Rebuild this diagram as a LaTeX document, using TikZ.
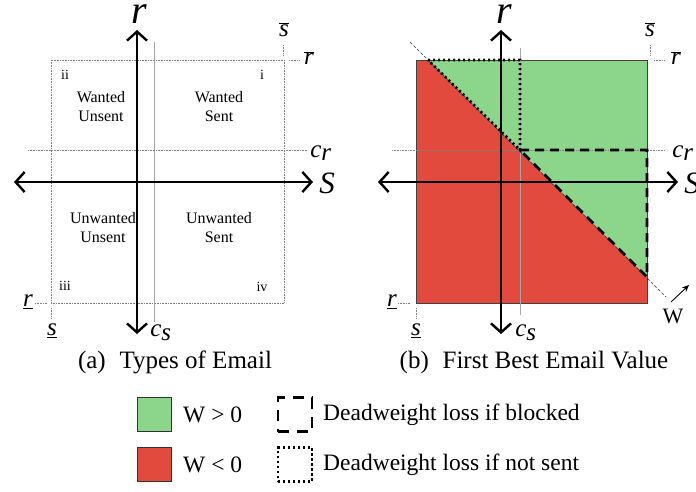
\documentclass[tikz,border=0pt]{standalone}
\usepackage{fontspec}
\setmainfont{Liberation Serif}
\newfontfamily\timesit{LiberationSerif-Italic.ttf}
\usetikzlibrary{arrows.meta}
\definecolor{wgreen}{HTML}{8CD68C}
\definecolor{wred}{HTML}{E24A3E}
\newcommand{\ivar}[1]{\mbox{\timesit #1}}
\tikzset{
  axisln/.style={line width=2.4pt,{Straight Barb[length=9pt,width=20pt,line width=2.4pt]}-{Straight Barb[length=9pt,width=20pt,line width=2.4pt]}},
  guide/.style={gray,line width=0.6pt,densely dotted},
  guidesolid/.style={gray!70,line width=0.6pt},
  tickln/.style={gray,line width=0.6pt,densely dotted},
  rlbl/.style={font=\fontsize{40}{42}\selectfont\timesit,inner sep=0pt,anchor=base},
  biglbl/.style={font=\fontsize{31}{33}\selectfont\timesit,inner sep=0pt},
  midlbl/.style={font=\fontsize{25}{27}\selectfont\timesit,inner sep=0pt},
  region/.style={font=\fontsize{16}{19}\selectfont,align=center,inner sep=0pt},
  roman/.style={font=\fontsize{14}{15}\selectfont,inner sep=0pt},
  captxt/.style={font=\fontsize{25}{27}\selectfont,inner sep=0pt},
  legtxt/.style={font=\fontsize{23.5}{25}\selectfont,inner sep=0pt,anchor=west},
  dashloss/.style={line width=2.6pt,dash pattern=on 9pt off 6pt},
  dotloss/.style={line width=2.6pt,dash pattern=on 2.2pt off 2.8pt},
}
\begin{document}
\begin{tikzpicture}[x=1pt,y=-1pt]
\useasboundingbox (0,0) rectangle (696,491);
% ================= Panel (a) =================
\coordinate (aTL) at (51,60);
\coordinate (aBR) at (284,303);
\draw[guide,line width=1pt] (aTL) rectangle (aBR);
\coordinate (acsT) at (154,42); \coordinate (acsB) at (154,322);
\draw[guidesolid] (acsT) -- (acsB);
\coordinate (acrL) at (28,150); \coordinate (acrR) at (307,150);
\draw[guide] (acrL) -- (acrR);
\coordinate (ayT) at (137,30); \coordinate (ayB) at (137,334);
\coordinate (axL) at (14,182); \coordinate (axR) at (313,182);
\draw[axisln] (axL) -- (axR);
\draw[axisln] (ayB) -- (ayT);
% labels
\node[rlbl] (ar) at (139,23) {r};
\node[biglbl] (aS) at (327,183) {S};
\node[midlbl] (asbar) at (284,30) {$\overline{\ivar{s}}$};
\coordinate (asbT) at (283,45); \coordinate (asbB) at (283,55);
\draw[tickln] (asbT) -- (asbB);
\node[midlbl] (arbar) at (309,58) {$\overline{\ivar{r}}$};
\coordinate (arbL) at (289,60); \coordinate (arbR) at (300,60);
\draw[tickln] (arbL) -- (arbR);
\node[midlbl] (acr) at (321,153) {$\ivar{c}_{\ivar{r}}$};
\node[midlbl] (arunder) at (28,302) {$\underline{\ivar{r}}$};
\coordinate (aruL) at (35,303); \coordinate (aruR) at (47,303);
\draw[tickln] (aruL) -- (aruR);
\node[midlbl] (asunder) at (52,331) {$\underline{\ivar{s}}$};
\coordinate (asuT) at (51,308); \coordinate (asuB) at (51,318);
\draw[tickln] (asuT) -- (asuB);
\node[midlbl] (acs) at (161,333) {$\ivar{c}_{\ivar{s}}$};
% regions
\node[roman] (ii) at (65,75) {ii};
\node[roman] (i) at (262,75) {i};
\node[roman] (iii) at (65,286) {iii};
\node[roman] (iv) at (262,287) {iv};
\node[region] (wu) at (101,107) {Wanted\\Unsent};
\node[region] (ws) at (219,107) {Wanted\\Sent};
\node[region] (uu) at (103,228) {Unwanted\\Unsent};
\node[region] (us) at (219,228) {Unwanted\\Sent};
\node[captxt] (capa) at (175,362) {(a)\hspace{0.55em}Types of Email};
% ================= Panel (b) =================
\coordinate (bTL) at (416,60);
\coordinate (bBR) at (647,303);
\coordinate (bTR) at (647,60);
\coordinate (bD1) at (428,60);
\coordinate (bD2) at (647,277);
\coordinate (bX) at (520,150);
\coordinate (bXt) at (520,60);
\coordinate (bXr) at (647,150);
\fill[wred] (bTL) rectangle (bBR);
\fill[wgreen] (bD1) -- (bTR) -- (bD2) -- cycle;
\draw[black!75,line width=0.8pt] (bTL) rectangle (bBR);
\coordinate (bWs) at (410,42); \coordinate (bWe) at (666,297);
\draw[black!80,line width=0.6pt,dash pattern=on 3pt off 2pt] (bWs) -- (bWe);
\coordinate (bcsT) at (520,48); \coordinate (bcsB) at (520,315);
\draw[guidesolid] (bcsT) -- (bcsB);
\coordinate (bcrL) at (392,150); \coordinate (bcrR) at (665,150);
\draw[guide] (bcrL) -- (bcrR);
\draw[dotloss] (bD1) -- (bXt) -- (bX) -- cycle;
\draw[dashloss] (bX) -- (bXr) -- (bD2) -- cycle;
\coordinate (byT) at (501,30); \coordinate (byB) at (501,334);
\coordinate (bxL) at (378,182); \coordinate (bxR) at (678,182);
\draw[axisln] (bxL) -- (bxR);
\draw[axisln] (byB) -- (byT);
\node[rlbl] (br) at (504,23) {r};
\node[biglbl] (bS) at (692,183) {S};
\node[midlbl] (bsbar) at (650,30) {$\overline{\ivar{s}}$};
\coordinate (bsbT) at (650,45); \coordinate (bsbB) at (650,55);
\draw[tickln] (bsbT) -- (bsbB);
\node[midlbl] (brbar) at (676,58) {$\overline{\ivar{r}}$};
\coordinate (brbL) at (654,60); \coordinate (brbR) at (665,60);
\draw[tickln] (brbL) -- (brbR);
\node[midlbl] (bcr) at (683,153) {$\ivar{c}_{\ivar{r}}$};
\node[midlbl] (brunder) at (392,302) {$\underline{\ivar{r}}$};
\coordinate (bruL) at (398,303); \coordinate (bruR) at (410,303);
\draw[tickln] (bruL) -- (bruR);
\node[midlbl] (bsunder) at (416,331) {$\underline{\ivar{s}}$};
\coordinate (bsuT) at (416,308); \coordinate (bsuB) at (416,318);
\draw[tickln] (bsuT) -- (bsuB);
\node[midlbl] (bcs) at (526,333) {$\ivar{c}_{\ivar{s}}$};
\node[font=\fontsize{22}{24}\selectfont,inner sep=0pt] (bW) at (673,316) {W};
\coordinate (bWa) at (671,302); \coordinate (bWb) at (689,285);
\draw[line width=0.9pt,-{Stealth[length=7pt,width=6pt]}] (bWa) -- (bWb);
\node[captxt] (capb) at (534,362) {(b)\hspace{0.55em}First Best Email Value};
% ================= Legend =================
\node[draw=black!80,line width=0.8pt,fill=wgreen,minimum size=34pt,inner sep=0pt] (lg) at (154.5,414.5) {};
\node[draw=black!80,line width=0.8pt,fill=wred,minimum size=34pt,inner sep=0pt] (lr) at (154.5,464.5) {};
\node[legtxt] (lgt) at (183,415) {W > 0};
\node[legtxt] (lrt) at (183,465) {W < 0};
\node[draw,minimum size=34pt,inner sep=0pt,line width=2.6pt,dash pattern=on 11pt off 8pt] (ld) at (295,414.5) {};
\node[draw,minimum size=34pt,inner sep=0pt,line width=2.6pt,dash pattern=on 2.2pt off 2.8pt] (lo) at (295,464.5) {};
\node[legtxt] (ldt) at (323,415) {Deadweight loss if blocked};
\node[legtxt] (lot) at (323,465) {Deadweight loss if not sent};
\end{tikzpicture}
\end{document}
